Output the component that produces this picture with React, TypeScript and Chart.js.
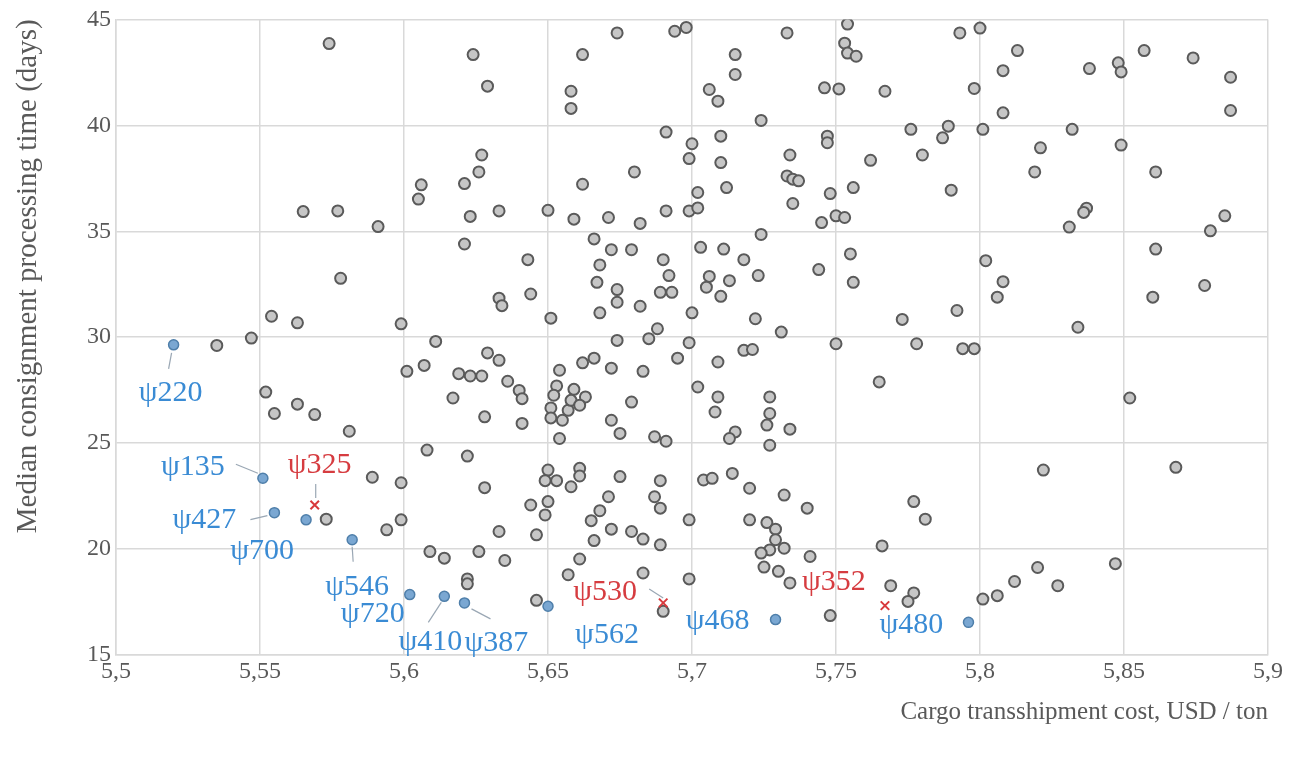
import { useEffect, useRef } from 'react';
import { Chart, registerables } from 'chart.js';

Chart.register(...registerables);

// ---------- data ----------
const xTicks = [5.5, 5.55, 5.6, 5.65, 5.7, 5.75, 5.8, 5.85, 5.9];
const xTickLabels = ['5,5', '5,55', '5,6', '5,65', '5,7', '5,75', '5,8', '5,85', '5,9'];
const yTicks = [15, 20, 25, 30, 35, 40, 45];
const yTickLabels = ['15', '20', '25', '30', '35', '40', '45'];

const xTitle = 'Cargo transshipment cost, USD / ton';
const yTitle = 'Median consignment processing time (days)';

const grayX = [
  5.574, 5.565, 5.577, 5.591,
  5.624, 5.629, 5.674, 5.694, 5.698, 5.662, 5.658, 5.658, 5.691, 5.700, 5.699, 5.627, 5.626, 5.606, 5.605, 5.621,
  5.680, 5.662, 5.702, 5.623, 5.633, 5.650, 5.659, 5.671, 5.682, 5.691, 5.699, 5.702,
  5.733, 5.754, 5.753, 5.754, 5.757, 5.793, 5.800, 5.715, 5.715, 5.706, 5.709, 5.724, 5.746, 5.751, 5.767, 5.798,
  5.710, 5.710, 5.712, 5.734, 5.733, 5.735, 5.737, 5.735, 5.747, 5.747, 5.762, 5.756, 5.748, 5.776, 5.789, 5.787,
  5.780, 5.801, 5.790, 5.750, 5.753, 5.745, 5.724,
  5.813, 5.808, 5.838, 5.848, 5.849, 5.857, 5.874, 5.887, 5.887, 5.808, 5.832, 5.821, 5.819, 5.849, 5.861, 5.837,
  5.836, 5.831, 5.885, 5.880,
  5.578, 5.554, 5.563, 5.599, 5.547, 5.535, 5.601, 5.552, 5.563, 5.555, 5.569, 5.581,
  5.621, 5.643, 5.633, 5.634, 5.644, 5.651, 5.666, 5.672, 5.679, 5.668, 5.667, 5.674, 5.674, 5.668, 5.682, 5.690,
  5.692, 5.689, 5.693, 5.703, 5.700, 5.688, 5.685, 5.674, 5.699, 5.695, 5.683, 5.672, 5.662, 5.666, 5.654, 5.702,
  5.611, 5.607, 5.629, 5.633, 5.619, 5.623, 5.627, 5.636, 5.640, 5.641, 5.617, 5.628, 5.641, 5.653, 5.652, 5.651,
  5.651, 5.655, 5.657, 5.659, 5.658, 5.663, 5.661, 5.654, 5.672, 5.675, 5.679, 5.687, 5.691, 5.608,
  5.711, 5.718, 5.723, 5.706, 5.705, 5.713, 5.710, 5.722, 5.731, 5.744, 5.755, 5.756, 5.802, 5.808, 5.806, 5.773,
  5.792, 5.750, 5.778, 5.794, 5.798, 5.718, 5.721, 5.709, 5.765, 5.709, 5.708, 5.727, 5.727, 5.726, 5.734, 5.715,
  5.713, 5.727,
  5.834, 5.861, 5.860, 5.878, 5.852,
  5.573, 5.589, 5.599, 5.594, 5.599,
  5.622, 5.628, 5.633, 5.609, 5.614, 5.626, 5.635, 5.622, 5.622, 5.646, 5.644, 5.650, 5.649, 5.650, 5.649, 5.653,
  5.658, 5.661, 5.661, 5.675, 5.689, 5.687, 5.689, 5.671, 5.668, 5.665, 5.672, 5.666, 5.679, 5.683, 5.689, 5.699,
  5.661, 5.657, 5.646, 5.683, 5.699, 5.690,
  5.704, 5.707, 5.714, 5.720, 5.732, 5.740, 5.720, 5.726, 5.729, 5.729, 5.732, 5.727, 5.724, 5.725, 5.730, 5.734,
  5.741, 5.748, 5.766, 5.777, 5.781, 5.769, 5.777, 5.775, 5.801,
  5.806, 5.812, 5.820, 5.827, 5.847, 5.822, 5.868,
];
const grayY = [
  43.86, 35.93, 35.96, 35.22,
  43.34, 41.85, 44.36, 44.44, 44.62, 43.34, 41.61, 40.80, 39.68, 39.13, 38.43, 38.60, 37.80, 37.19, 36.52, 37.25,
  37.80, 37.22, 36.83, 35.70, 35.96, 35.99, 35.57, 35.65, 35.37, 35.96, 35.96, 36.10,
  44.36, 44.78, 43.88, 43.41, 43.26, 44.36, 44.59, 43.34, 42.40, 41.69, 41.14, 40.23, 41.77, 41.72, 41.61, 41.74,
  39.49, 38.24, 37.06, 38.60, 37.61, 37.46, 37.38, 36.31, 39.49, 39.18, 38.35, 37.06, 36.78, 39.81, 39.96, 39.41,
  38.60, 39.81, 36.94, 35.73, 35.65, 35.41, 34.85,
  43.53, 42.58, 42.68, 42.95, 42.52, 43.53, 43.18, 42.27, 40.70, 40.59, 39.81, 38.94, 37.80, 39.07, 37.80, 36.09,
  35.89, 35.20, 35.73, 35.02,
  32.78, 30.99, 30.68, 30.63, 29.96, 29.61, 28.39, 27.41, 26.84, 26.40, 26.35, 25.56,
  34.40, 33.66, 31.84, 31.49, 32.04, 30.90, 34.64, 34.13, 34.13, 33.41, 32.59, 32.25, 31.65, 31.15, 31.46, 33.66,
  32.91, 32.12, 32.12, 34.24, 31.15, 30.40, 29.93, 29.85, 29.74, 29.01, 28.39, 28.54, 28.79, 29.01, 28.44, 27.65,
  29.80, 28.67, 29.26, 28.91, 28.28, 28.17, 28.17, 27.92, 27.49, 27.10, 27.13, 26.24, 25.93, 27.70, 27.26, 26.66,
  26.19, 26.08, 26.55, 27.54, 27.02, 27.18, 26.79, 25.22, 26.08, 25.46, 26.94, 25.30, 25.09, 24.67,
  34.16, 33.66, 32.91, 32.87, 32.36, 32.67, 31.93, 30.87, 30.24, 33.19, 33.93, 32.59, 33.61, 32.62, 31.89, 30.84,
  31.26, 29.69, 29.69, 29.46, 29.46, 29.38, 29.42, 28.83, 27.89, 27.18, 26.47, 27.18, 26.40, 25.85, 25.66, 25.53,
  25.22, 24.90,
  30.47, 34.16, 31.89, 32.44, 27.13,
  21.41, 23.39, 23.13, 20.91, 21.38,
  24.39, 22.90, 20.83, 19.88, 19.57, 19.88, 19.46, 18.59, 18.36, 20.67, 22.08, 22.24, 21.61, 23.73, 23.23, 23.23,
  22.94, 23.81, 23.45, 23.42, 23.23, 22.47, 21.93, 22.47, 21.81, 21.34, 20.94, 20.40, 20.83, 20.47, 20.20, 21.38,
  19.53, 18.79, 17.58, 18.87, 18.59, 17.06,
  23.26, 23.34, 23.57, 22.87, 22.55, 21.93, 21.38, 21.25, 20.94, 20.44, 20.04, 19.96, 19.81, 19.15, 18.95, 18.40,
  19.65, 16.86, 20.15, 22.24, 21.41, 18.27, 17.93, 17.53, 17.64,
  17.80, 18.47, 19.13, 18.27, 19.31, 23.73, 23.86,
];

const blueNames = ['ψ220', 'ψ135', 'ψ427', 'ψ700', 'ψ546', 'ψ720', 'ψ410', 'ψ387', 'ψ562', 'ψ468', 'ψ480'];
const blueX = [5.520, 5.551, 5.555, 5.566, 5.582, 5.602, 5.614, 5.621, 5.650, 5.729, 5.796];
const blueY = [29.64, 23.34, 21.72, 21.38, 20.44, 17.85, 17.77, 17.46, 17.30, 16.67, 16.54];

const redNames = ['ψ325', 'ψ530', 'ψ352'];
const redX = [5.569, 5.690, 5.767];
const redY = [22.08, 17.46, 17.33];

// ---------- layout / style (not data) ----------
const FONT = "'Liberation Serif', 'Times New Roman', serif";
const TEXT = '#595959';
const BLUE_TEXT = '#3a8bd4';
const RED_TEXT = '#d63c40';
const LABEL_SIZE = 30;

type Lay = { dx: number; dy: number; leader?: [number, number, number, number] };
const labelLayout: Record<string, Lay> = {
  'ψ220': { dx: -3, dy: 48, leader: [-2, 8, -5, 24] },
  'ψ135': { dx: -70, dy: -11, leader: [-27, -14, -5, -5] },
  'ψ427': { dx: -70, dy: 7, leader: [-24, 7, -7, 3] },
  'ψ700': { dx: -44, dy: 31 },
  'ψ546': { dx: 5, dy: 47, leader: [0, 7, 1, 22] },
  'ψ720': { dx: -37, dy: 20 },
  'ψ410': { dx: -14, dy: 46, leader: [-16, 26, -3, 6] },
  'ψ387': { dx: 32, dy: 40, leader: [7, 6, 26, 16] },
  'ψ562': { dx: 59, dy: 29 },
  'ψ468': { dx: -58, dy: 2 },
  'ψ480': { dx: -57, dy: 3 },
  'ψ325': { dx: 5, dy: -40, leader: [1, -21, 1, -7] },
  'ψ530': { dx: -58, dy: -11, leader: [-14, -14, 0, -5] },
  'ψ352': { dx: -51, dy: -24 },
};

const labelPlugin = {
  id: 'psiLabels',
  afterDatasetsDraw(chart: any) {
    const { ctx, scales } = chart;
    const xs = scales.x;
    const ys = scales.y;
    ctx.save();
    ctx.font = `${LABEL_SIZE}px ${FONT}`;
    ctx.textAlign = 'center';
    ctx.textBaseline = 'middle';
    const drawOne = (name: string, xv: number, yv: number, color: string) => {
      const lay = labelLayout[name];
      if (!lay) return;
      const px = xs.getPixelForValue(xv);
      const py = ys.getPixelForValue(yv);
      if (lay.leader) {
        const [x1, y1, x2, y2] = lay.leader;
        ctx.strokeStyle = '#9aa7b4';
        ctx.lineWidth = 1.2;
        ctx.beginPath();
        ctx.moveTo(px + x1, py + y1);
        ctx.lineTo(px + x2, py + y2);
        ctx.stroke();
      }
      ctx.fillStyle = color;
      ctx.fillText(name, px + lay.dx, py + lay.dy);
    };
    blueNames.forEach((n, i) => drawOne(n, blueX[i], blueY[i], BLUE_TEXT));
    redNames.forEach((n, i) => drawOne(n, redX[i], redY[i], RED_TEXT));
    ctx.restore();
  },
};

export default function App() {
  const ref = useRef<HTMLCanvasElement | null>(null);
  useEffect(() => {
    if (!ref.current) return;
    const toPts = (xa: number[], ya: number[]) => xa.map((x, i) => ({ x, y: ya[i] }));
    const chart = new Chart(ref.current, {
      type: 'scatter',
      data: {
        datasets: [
          {
            label: 'all',
            data: toPts(grayX, grayY),
            pointRadius: 5.5,
            pointBackgroundColor: '#c6c6c6',
            pointBorderColor: '#5a5a5a',
            pointBorderWidth: 2,
            order: 3,
          },
          {
            label: 'selected',
            data: toPts(blueX, blueY),
            pointRadius: 5,
            pointBackgroundColor: '#7aa7d2',
            pointBorderColor: '#4f7faa',
            pointBorderWidth: 1.5,
            order: 2,
          },
          {
            label: 'rejected',
            data: toPts(redX, redY),
            pointStyle: 'crossRot',
            pointRadius: 6,
            pointBorderColor: '#d8393c',
            pointBorderWidth: 2,
            order: 1,
          },
        ],
      },
      options: {
        responsive: false,
        animation: false,
        events: [],
        layout: { padding: { left: 0, right: 30, top: 18, bottom: 0 } },
        plugins: { legend: { display: false }, tooltip: { enabled: false } },
        scales: {
          x: {
            type: 'linear',
            min: 5.5,
            max: 5.9,
            afterBuildTicks: (s: any) => { s.ticks = xTicks.map((v) => ({ value: v })); },
            afterFit: (s: any) => { s.height = 105; },
            ticks: {
              callback: (_v: any, i: number) => xTickLabels[i],
              font: { family: FONT, size: 24 },
              color: TEXT,
              padding: 2,
              maxRotation: 0,
              autoSkip: false,
            },
            grid: { color: '#d9d9d9', lineWidth: 1.5, drawTicks: false },
            border: { color: '#d9d9d9', width: 1.5 },
            title: {
              display: true,
              text: xTitle,
              align: 'end',
              font: { family: FONT, size: 25 },
              color: TEXT,
              padding: { top: 0, bottom: 33 },
            },
          },
          y: {
            type: 'linear',
            min: 15,
            max: 45,
            afterBuildTicks: (s: any) => { s.ticks = yTicks.map((v) => ({ value: v })); },
            afterFit: (s: any) => { s.width = 116; },
            ticks: {
              callback: (_v: any, i: number) => yTickLabels[i],
              font: { family: FONT, size: 24 },
              color: TEXT,
              padding: 5,
            },
            grid: { color: '#d9d9d9', lineWidth: 1.5, drawTicks: false },
            border: { color: '#d9d9d9', width: 1.5 },
            title: {
              display: true,
              text: yTitle,
              align: 'end',
              font: { family: FONT, size: 29 },
              color: TEXT,
              padding: { top: 11, bottom: 0 },
            },
          },
        },
      },
      plugins: [labelPlugin],
    } as any);
    return () => chart.destroy();
  }, []);
  return (
    <div style={{ position: 'absolute', left: 0, top: 0, width: 1298, height: 760, background: '#fff' }}>
      <canvas ref={ref} width={1298} height={760} style={{ display: 'block' }} />
    </div>
  );
}
